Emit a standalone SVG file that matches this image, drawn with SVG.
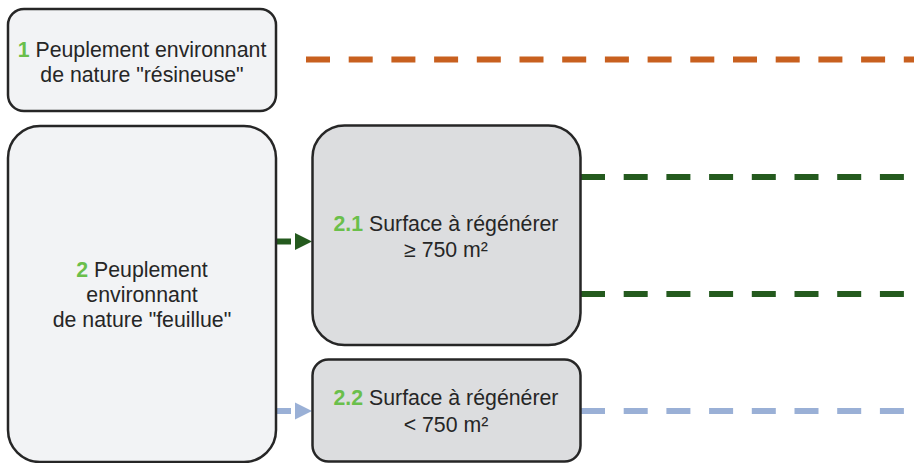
<svg xmlns="http://www.w3.org/2000/svg" width="914" height="463" viewBox="0 0 914 463">
<style>
.box{stroke:#262626;stroke-width:2.5}
.light{fill:#f2f3f5}
.grey{fill:#dcdddf}
.t{font-family:"Liberation Sans",Arial,sans-serif;font-size:21.3px;fill:#262626;text-anchor:middle}
.n{fill:#6abf4b;font-weight:bold}
.dash{fill:none;stroke-width:6;stroke-dasharray:24 18.7}
.orange{stroke:#c8601f}
.green{stroke:#245a1e}
.blue{stroke:#9ab0d6}
</style>
<rect width="914" height="463" fill="#ffffff"/>
<g id="connectors">
<line class="dash orange" x1="306" y1="59.5" x2="914" y2="59.5"/>
<line class="dash green" x1="581" y1="177" x2="914" y2="177"/>
<line class="dash green" x1="581" y1="294" x2="914" y2="294"/>
<line class="dash blue" x1="581" y1="411" x2="914" y2="411"/>
<line x1="276" y1="241.5" x2="291" y2="241.5" stroke="#245a1e" stroke-width="6"/>
<polygon points="295,233 312,241.5 295,250" fill="#245a1e"/>
<line x1="276" y1="411" x2="291" y2="411" stroke="#9ab0d6" stroke-width="6"/>
<polygon points="295,402.5 312,411 295,419.5" fill="#9ab0d6"/>
</g>
<g id="node1">
<rect class="box light" x="8" y="9" width="268" height="102" rx="16"/>
<text class="t" x="142" y="57"><tspan class="n">1</tspan> Peuplement environnant</text>
<text class="t" x="142" y="82">de nature "résineuse"</text>
</g>
<g id="node2">
<rect class="box light" x="8" y="126" width="268" height="336" rx="32"/>
<text class="t" x="142" y="277"><tspan class="n">2</tspan> Peuplement</text>
<text class="t" x="142" y="302">environnant</text>
<text class="t" x="142" y="327">de nature "feuillue"</text>
</g>
<g id="node21">
<rect class="box grey" x="312.5" y="125.5" width="268" height="219.5" rx="32"/>
<text class="t" x="446" y="231"><tspan class="n">2.1</tspan> Surface à régénérer</text>
<text class="t" x="446" y="257">≥ 750 m²</text>
</g>
<g id="node22">
<rect class="box grey" x="312.5" y="359.5" width="268" height="102" rx="16"/>
<text class="t" x="446" y="405"><tspan class="n">2.2</tspan> Surface à régénérer</text>
<text class="t" x="446" y="432">&lt; 750 m²</text>
</g>
</svg>
